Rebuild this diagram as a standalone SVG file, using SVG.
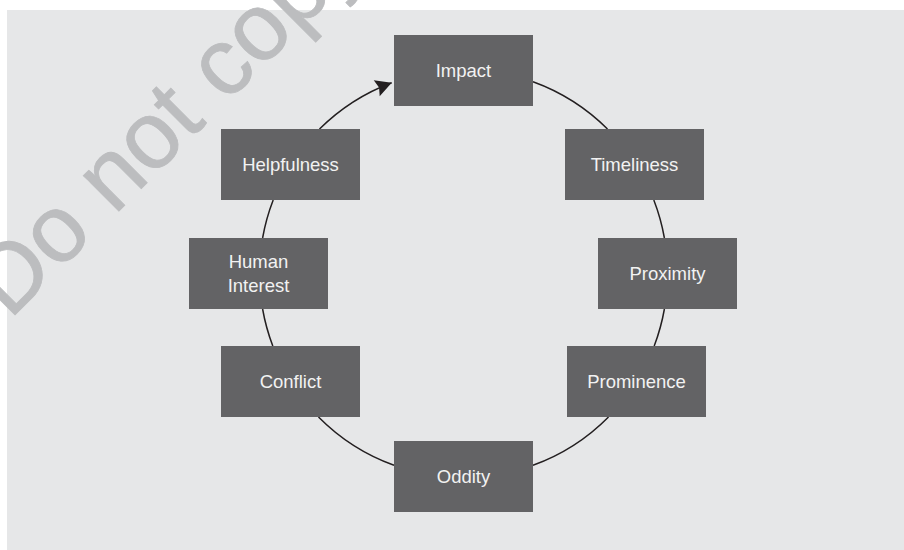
<svg xmlns="http://www.w3.org/2000/svg" width="904" height="550" viewBox="0 0 904 550">
  <style>
    .box { fill: #636365; }
    .label { font-family: "Liberation Sans", Arial, sans-serif; font-size: 18.5px; fill: #f2f2f2; text-anchor: middle; }
    .conn { fill: none; stroke: #231f20; stroke-width: 1.5; }
    .wm { font-family: "Liberation Sans", Arial, sans-serif; font-size: 95px; fill: #bcbdbf; stroke: #bcbdbf; stroke-width: 0.8; }
  </style>
  <defs>
    <marker id="arrow" markerWidth="16" markerHeight="17" refX="16" refY="8.5" orient="auto" markerUnits="userSpaceOnUse" overflow="visible">
      <path d="M0,0 L16,8.5 L0,17 L2.5,8.5 z" fill="#231f20"/>
    </marker>
  </defs>

  <rect x="0" y="0" width="904" height="550" fill="#ffffff"/>
  <rect x="7" y="10" width="897" height="540" fill="#e6e7e8"/>

  <text class="wm" transform="translate(9.6,320.4) rotate(-45)">Do not copy.</text>

  <g id="connectors">
    <path class="conn" d="M533,81.7 A204,204 0 0 1 607.5,129"/>
    <path class="conn" d="M653.8,200 A204,204 0 0 1 664.4,238"/>
    <path class="conn" d="M664.4,309 A204,204 0 0 1 654.2,346"/>
    <path class="conn" d="M608.5,417 A204,204 0 0 1 533,465.3"/>
    <path class="conn" d="M394,465.3 A204,204 0 0 1 318.5,417"/>
    <path class="conn" d="M272.8,346 A204,204 0 0 1 262.6,309"/>
    <path class="conn" d="M262.6,238 A204,204 0 0 1 273.2,200"/>
    <path class="conn" d="M319.5,129 A204,204 0 0 1 391.7,82.7" marker-end="url(#arrow)"/>
  </g>

  <g id="impact">
    <rect class="box" x="394" y="35" width="139" height="71"/>
    <text class="label" x="463.5" y="77">Impact</text>
  </g>
  <g id="timeliness">
    <rect class="box" x="565" y="129" width="139" height="71"/>
    <text class="label" x="634.5" y="171">Timeliness</text>
  </g>
  <g id="proximity">
    <rect class="box" x="598" y="238" width="139" height="71"/>
    <text class="label" x="667.5" y="280">Proximity</text>
  </g>
  <g id="prominence">
    <rect class="box" x="567" y="346" width="139" height="71"/>
    <text class="label" x="636.5" y="388">Prominence</text>
  </g>
  <g id="oddity">
    <rect class="box" x="394" y="441" width="139" height="71"/>
    <text class="label" x="463.5" y="483">Oddity</text>
  </g>
  <g id="conflict">
    <rect class="box" x="221" y="346" width="139" height="71"/>
    <text class="label" x="290.5" y="388">Conflict</text>
  </g>
  <g id="human-interest">
    <rect class="box" x="189" y="238" width="139" height="71"/>
    <text class="label" x="258.5" y="268.3">Human</text>
    <text class="label" x="258.5" y="292">Interest</text>
  </g>
  <g id="helpfulness">
    <rect class="box" x="221" y="129" width="139" height="71"/>
    <text class="label" x="290.5" y="171">Helpfulness</text>
  </g>
</svg>
